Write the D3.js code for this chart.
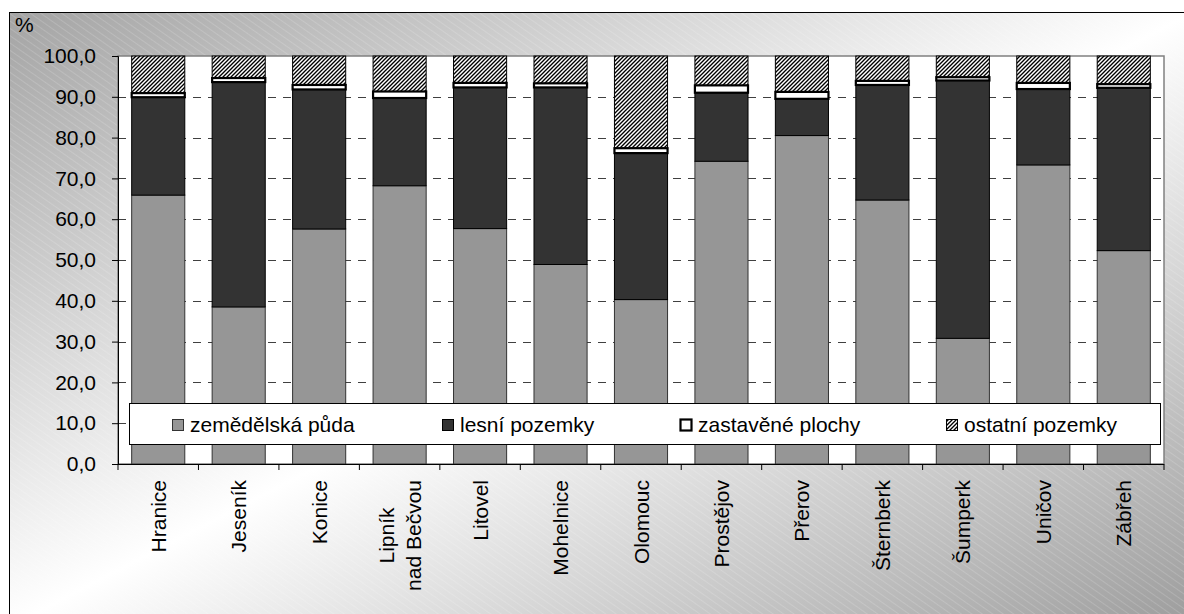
<!DOCTYPE html>
<html>
<head>
<meta charset="utf-8">
<script src="https://cdn.jsdelivr.net/npm/d3@7"></script>
<style>
  body { margin: 0; background: #fff; }
  svg { display: block; font-family: "Liberation Sans", Arial, sans-serif; }
</style>
</head>
<body>
<svg id="chart" width="1184" height="614"></svg>
<script>
// values (percent of district area)
const categories = ["Hranice", "Jeseník", "Konice", "Lipník\nnad Bečvou", "Litovel", "Mohelnice",
  "Olomouc", "Prostějov", "Přerov", "Šternberk", "Šumperk", "Uničov", "Zábřeh"];
const zemedelska = [65.9, 38.5, 57.6, 68.2, 57.7, 48.9, 40.3, 74.2, 80.5, 64.7, 30.8, 73.3, 52.3];
const lesni = [24.0, 55.1, 34.2, 21.5, 34.6, 43.4, 35.9, 16.8, 9.0, 28.2, 63.2, 18.6, 39.9];
const zastavene = [1.0, 1.0, 1.1, 1.6, 1.1, 1.0, 1.2, 1.8, 1.7, 1.0, 0.8, 1.5, 0.9];
const ostatni = [9.1, 5.4, 7.1, 8.7, 6.6, 6.7, 22.6, 7.2, 8.8, 6.1, 5.2, 6.6, 6.9];
const seriesNames = ["zemědělská půda", "lesní pozemky", "zastavěné plochy", "ostatní pozemky"];
const yTicks = [0, 10, 20, 30, 40, 50, 60, 70, 80, 90, 100];

const W = 1184, H = 614;
const plot = { left: 118, right: 1164, top: 56, bottom: 464 };

const svg = d3.select("#chart");
const defs = svg.append("defs");

// chart area background: diagonal gray-white-gray gradient with faint stripes
const grad = defs.append("linearGradient").attr("id", "bg")
  .attr("x1", 0).attr("y1", 0).attr("x2", 1).attr("y2", 1);
grad.append("stop").attr("offset", 0).attr("stop-color", "#a4a4a4");
grad.append("stop").attr("offset", 0.5).attr("stop-color", "#ffffff");
grad.append("stop").attr("offset", 1).attr("stop-color", "#9c9c9c");

const stripes = defs.append("pattern").attr("id", "stripes")
  .attr("patternUnits", "userSpaceOnUse").attr("width", 6).attr("height", 6)
  .attr("patternTransform", "rotate(-55)");
stripes.append("line").attr("x1", 0).attr("y1", 0).attr("x2", 0).attr("y2", 6)
  .attr("stroke", "#fff").attr("stroke-width", 1).attr("stroke-opacity", 0.3);

const hatch = defs.append("pattern").attr("id", "hatch")
  .attr("patternUnits", "userSpaceOnUse").attr("width", 4).attr("height", 4);
hatch.append("rect").attr("width", 4).attr("height", 4).attr("fill", "#fff");
hatch.append("path").attr("d", "M-1,1 l2,-2 M0,4 l4,-4 M3,5 l2,-2")
  .attr("stroke", "#000").attr("stroke-width", 1.35);

svg.append("rect").attr("x", 9.5).attr("y", 12.5).attr("width", W).attr("height", H)
  .attr("fill", "url(#bg)");
svg.append("rect").attr("x", 9.5).attr("y", 12.5).attr("width", W).attr("height", H)
  .attr("fill", "url(#stripes)").attr("stroke", "#000").attr("stroke-width", 1);

// plot area
svg.append("rect").attr("x", plot.left).attr("y", plot.top)
  .attr("width", plot.right - plot.left).attr("height", plot.bottom - plot.top)
  .attr("fill", "#fff").attr("stroke", "#808080").attr("stroke-width", 1.5);

const x = d3.scaleBand().domain(categories).range([plot.left, plot.right])
  .paddingInner(0.34).paddingOuter(0.17);
const y = d3.scaleLinear().domain([0, 100]).range([plot.bottom, plot.top]);

// dashed gridlines
svg.append("g").selectAll("line")
  .data(yTicks.filter((t) => t > 0 && t < 100))
  .join("line")
  .attr("x1", plot.left).attr("x2", plot.right)
  .attr("y1", (d) => Math.round(y(d)) + 0.5).attr("y2", (d) => Math.round(y(d)) + 0.5)
  .attr("stroke", "#404040").attr("stroke-dasharray", "8,7");

// stacked bars
const rows = categories.map((c, i) => ({
  cat: c, z: zemedelska[i], l: lesni[i], s: zastavene[i], o: ostatni[i],
}));
const stacked = d3.stack().keys(["z", "l", "s", "o"])(rows);
const styles = [
  { fill: "#969696", stroke: "#333", sw: 1 },
  { fill: "#333333", stroke: "#000", sw: 1 },
  { fill: "#ffffff", stroke: "#000", sw: 2.2 },
  { fill: "url(#hatch)", stroke: "#000", sw: 1 },
];
const drawOrder = [0, 1, 3, 2];
drawOrder.forEach((k) => {
  svg.append("g").selectAll("rect")
    .data(stacked[k])
    .join("rect")
    .attr("x", (d) => x(d.data.cat))
    .attr("width", x.bandwidth())
    .attr("y", (d) => y(d[1]))
    .attr("height", (d) => y(d[0]) - y(d[1]))
    .attr("fill", styles[k].fill)
    .attr("stroke", styles[k].stroke)
    .attr("stroke-width", styles[k].sw);
});

// y axis
const yAxis = svg.append("g").attr("transform", `translate(${plot.left},0)`)
  .call(d3.axisLeft(y).tickValues(yTicks).tickSize(6).tickPadding(16)
    .tickFormat((d) => d3.format(".1f")(d).replace(".", ",")));
yAxis.select(".domain").attr("stroke", "#000");
yAxis.selectAll("text").attr("font-size", 21).attr("fill", "#000")
  .attr("font-family", "'Liberation Sans', Arial, sans-serif");

// x axis: ticks at band boundaries
const bounds = d3.range(categories.length + 1).map((i) => plot.left + i * x.step());
svg.append("line").attr("x1", plot.left).attr("x2", plot.right)
  .attr("y1", plot.bottom + 0.5).attr("y2", plot.bottom + 0.5).attr("stroke", "#000");
svg.append("g").selectAll("line").data(bounds).join("line")
  .attr("x1", (d) => d).attr("x2", (d) => d)
  .attr("y1", plot.bottom).attr("y2", plot.bottom + 6).attr("stroke", "#000");

const labelTop = 480;
const lineGap = 27;
categories.forEach((c) => {
  const lines = c.split("\n");
  const cx = x(c) + x.bandwidth() / 2;
  const g = svg.append("g");
  const texts = lines.map((t, j) =>
    g.append("text").text(t).attr("font-size", 21).attr("fill", "#000")
      .attr("text-anchor", "middle"));
  const maxLen = d3.max(texts, (t) => t.node().getComputedTextLength());
  texts.forEach((t, j) => {
    const off = (j - (lines.length - 1) / 2) * lineGap;
    const px = cx + off + 7.5;
    const py = labelTop + maxLen / 2;
    t.attr("transform", `translate(${px},${py}) rotate(-90)`);
  });
});

// "%" unit label
svg.append("text").attr("x", 15).attr("y", 32).attr("font-size", 21).text("%");

// legend
svg.append("rect").attr("x", 129.5).attr("y", 403.5).attr("width", 1031).attr("height", 41)
  .attr("fill", "#fff").attr("stroke", "#000").attr("stroke-width", 1);
const legendX = [172, 442, 680, 946];
seriesNames.forEach((name, i) => {
  svg.append("rect").attr("x", legendX[i] + 0.5).attr("y", 419.5).attr("width", 11).attr("height", 11)
    .attr("fill", styles[i].fill).attr("stroke", styles[i].stroke)
    .attr("stroke-width", styles[i].sw);
  svg.append("text").attr("x", legendX[i] + 18).attr("y", 432).attr("font-size", 21)
    .attr("fill", "#000").text(name);
});
</script>
</body>
</html>
